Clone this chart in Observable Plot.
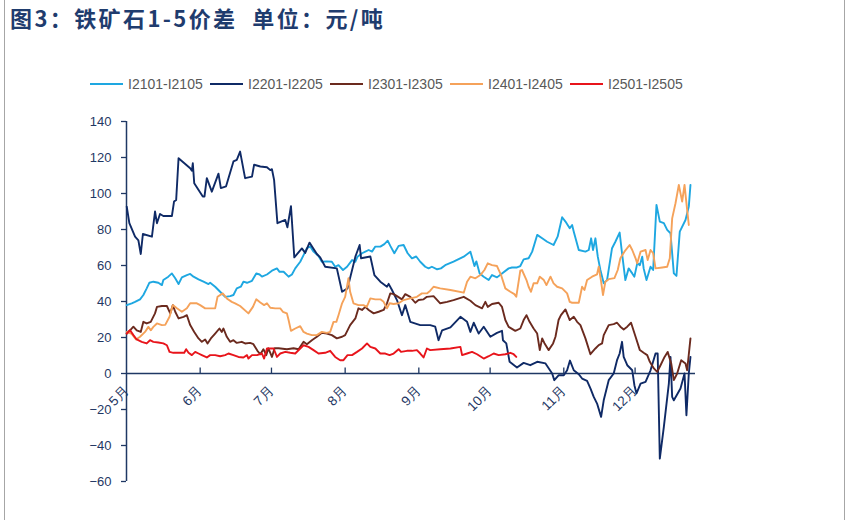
<!DOCTYPE html>
<html><head><meta charset="utf-8">
<script src="https://cdn.jsdelivr.net/npm/d3@7"></script>
<script src="https://cdn.jsdelivr.net/npm/@observablehq/plot@0.6"></script>
<style>
body{margin:0;background:#fff;}
#wrap{position:relative;width:853px;height:520px;overflow:hidden;background:#fff;}
#bl{position:absolute;left:4px;top:0;width:0;height:520px;border-left:1px solid #a6a6a6;}
#br{position:absolute;left:844px;top:0;width:0;height:520px;border-left:1px solid #a6a6a6;}
#title{position:absolute;left:10px;top:1px;font:bold 22px "Noto Sans CJK SC",sans-serif;color:#1f3c6e;letter-spacing:2.4px;white-space:pre;}
#legend{position:absolute;left:90px;top:76px;display:flex;font:14px "Liberation Sans",Arial,sans-serif;color:#595959;}
.item{width:120px;display:flex;align-items:center;white-space:nowrap;}
.sw{width:33px;height:0;border-top:2px solid;margin-right:5px;}
#chart{position:absolute;left:0;top:100px;}
</style></head>
<body><div id="wrap"><div id="bl"></div><div id="br"></div>
<div id="title"></div><div id="legend"></div><div id="chart"></div></div>
<script>
const titleText = "图3：铁矿石1-5价差  单位：元/吨";
const seriesNames = ["I2101-I2105","I2201-I2205","I2301-I2305","I2401-I2405","I2501-I2505"];
const seriesColors = ["#1ea7e1","#0f2a66","#6b2a1e","#f5a25a","#e8141b"];
const monthLabels = ["5月","6月","7月","8月","9月","10月","11月","12月"];
const yTicks = [-60,-40,-20,0,20,40,60,80,100,120,140];
// [days since 1 May, value]
const s2101 = [[0.1,38],[2.2,39],[3.6,39.8],[5.7,41.2],[7.1,43.6],[8.5,47.3],[9.6,50.4],[11.3,51],[13.4,50.4],[14.9,49.1],[15.5,51.9],[17.6,53.8],[19.1,55.6],[20.5,52.9],[21.9,49.7],[23.3,53.4],[25.4,54.7],[26.8,55.3],[28.2,53.8],[30.3,52.3],[32.4,51],[34.5,49.7],[35.2,50.4],[37.3,48.2],[39.4,45.4],[41.5,42.6],[43.6,43],[45,43.6],[46.4,47.3],[48.1,48.2],[49.2,51],[50.7,50.4],[52.8,51.5],[54.6,55.6],[56,55],[57,53.8],[59.1,55],[61.2,57.1],[63.3,58.4],[64.4,56.5],[66.1,56.5],[68.2,53.8],[69.6,55],[71,58.4],[73.1,62.1],[74.5,65.8],[75.9,69.6],[77.3,70.5],[78.7,67.7],[80.8,65.3],[82.2,62.1],[84.3,62.3],[86.4,62.1],[87.8,59.3],[89.2,60.2],[91.1,57.5],[92.8,59.3],[94.9,63],[96.3,62.1],[97.2,64.9],[99.1,66.8],[100.5,67.7],[101.9,68.6],[103.3,67.7],[104.7,70.5],[106.8,70.5],[108.5,71.9],[109.9,73.8],[111,70.9],[112.7,66.8],[114.5,70.9],[116.6,71.4],[118.3,66.8],[120.1,64],[121.9,65],[123.6,62.1],[125.7,59.3],[127.1,58.4],[128.5,59.3],[130.7,57.9],[132.3,58.4],[134.1,60.2],[137.6,62.1],[141.9,64.9],[144.7,67.7],[146.4,59.7],[147.2,62.3],[148.6,55.6],[150.3,53.8],[152.4,51.9],[153.8,54.7],[155.9,53.4],[158,55.6],[160.8,58.4],[162.2,58.9],[164.3,58.9],[165.7,59.7],[167.1,63.4],[169.2,64],[170.7,67.7],[172.8,77],[174.9,75.1],[177,73.2],[179.7,71.4],[181.4,76],[183.3,86.8],[184.7,84.4],[186.5,80.7],[187.5,82.5],[188.2,78.8],[190.3,68.6],[193.1,67.7],[194.5,68.6],[195.5,75.1],[196.3,68.6],[197.3,75.1],[198.3,64.9],[199.4,57.5],[200.8,50.1],[202.2,51.9],[204.3,69.6],[205.7,73.2],[207.5,78.3],[208.5,66.8],[209.9,51.9],[211.3,58.4],[212.8,55.6],[213.7,53.8],[214.9,61.2],[216,60.2],[217,64.9],[217.6,58.4],[218.8,51.9],[220.5,59.3],[221.6,57.5],[223,93.7],[224.4,84.4],[226.1,83.5],[227.5,79.8],[228.9,77.9],[230.3,55.6],[231.4,54.2],[232.8,78.8],[235.2,85.3],[236.6,92.7],[237.3,104.8]];
const s2201 = [[0.1,92.7],[1.2,83.5],[3.6,76],[5,74],[6,66.4],[6.9,77.5],[10.7,76],[12,90],[12.8,83.5],[14.1,88.6],[15.5,87.5],[19.1,87.5],[20,95.5],[20.9,96.4],[21.9,119.6],[26.8,114],[27.5,112.7],[27.9,116.8],[28.5,105.7],[32.1,98.3],[32.8,98.3],[33.8,108.5],[35.9,101],[38.7,111],[39.7,103],[41.9,104],[45,117.8],[46.4,118.7],[47.8,123.3],[49.9,108.5],[52.8,109.4],[53.7,116],[56.3,115],[59.1,114.6],[60.5,113],[61.2,113.5],[62.1,107.6],[63.5,83.5],[66.8,85.3],[67.7,81.2],[69.2,93],[70.6,64.5],[73.8,69.5],[75.2,67],[77,72.7],[80.1,66.4],[81.5,64.5],[83.6,59.3],[88.5,58.4],[90.7,45.4],[93,47.3],[96.3,64.9],[98.1,71.4],[98.7,64],[102.6,65],[104.3,54.7],[106.8,51],[109.6,48.2],[110.3,49.8],[111.7,46.4],[113.8,40.8],[115.9,32.4],[117.3,38],[119.4,28.7],[123.6,26.9],[127.8,26.9],[129.9,26],[131.3,18.5],[132.8,24],[136.3,25.6],[140.5,31.5],[143.3,28.7],[144.7,23.1],[146.1,28.2],[148.2,22.2],[150.3,26],[153.1,20.4],[155.9,22.6],[158,23.7],[158.4,18.5],[159.8,16.7],[161.2,6.5],[164.3,3.3],[167.1,5.9],[169.9,4.6],[172.8,6.5],[176.3,5.6],[179.1,0],[180,-3.7],[181.8,-1],[184,-1],[185.4,1.8],[186.6,7.2],[188.2,1.8],[190.3,-0.4],[191.7,-2.8],[193.8,-4.1],[195.2,-8.3],[196.6,-13],[198,-16.7],[199.7,-24.1],[200.8,-14.9],[202.9,-3.7],[205,0],[206.4,7.4],[207.5,11.1],[208.5,17.6],[209.2,9.2],[210.7,4.6],[212.8,1.8],[213.7,-6.5],[214.6,-11.1],[216.3,-5.6],[218.4,-4.6],[220.5,1.8],[222.6,11.1],[223.5,11.1],[224.4,-47.3],[226.1,-29.7],[228.2,-5.6],[228.9,9.2],[229.6,-13],[230.3,-14.9],[233.1,-8.3],[234.8,0],[235.6,-23.2],[236.6,0],[237.3,9.2]];
const s2301 = [[0.1,22.2],[1.5,24],[2.9,26],[4.3,24],[6,23.1],[7.1,28.7],[8.5,27.8],[10.2,28.7],[12,33.4],[12.8,37],[14.9,37.5],[17,37.5],[18.4,33.4],[19.5,38],[20.5,34.3],[21.9,30.6],[24,31.5],[25.4,32.4],[26.8,26.9],[28.5,23.1],[30.3,19.5],[31.7,17.6],[33.1,18.9],[34.1,16.7],[35.5,19.5],[37.3,22.2],[39.1,25],[40.1,23.1],[40.8,25],[42.2,20.4],[43.6,17.6],[45,18.5],[46.4,17],[48.5,17.6],[49.9,16.7],[52,17],[53.4,16.3],[55.1,12.6],[56.3,10.7],[57.6,13.5],[58.8,10.2],[59.7,14],[61.2,9.2],[62.3,14],[64,14],[67.5,13.5],[70.3,14],[72.4,13.5],[74.5,17.6],[75.9,16.3],[78,18.5],[80.1,20.4],[82.2,22.6],[84.3,22.2],[86.4,21.3],[88.5,19.5],[90.7,20.4],[92,21.3],[94.1,26.9],[96.3,30.6],[97.6,36.2],[99.1,35.3],[100.5,37],[101.9,35.3],[104,33.4],[106.1,34.3],[108.2,35.3],[109.6,39],[111,44.5],[112.4,44.1],[113.8,43],[115.9,41.2],[117.3,44.1],[119.4,42.6],[121.5,39.3],[122.9,40.8],[125,41.2],[126.4,42.6],[129.2,43],[132,39],[134.9,39.8],[137.6,40.8],[141.9,42.6],[144.7,40.4],[146.8,38],[149.6,36.2],[151,39.8],[152,37],[153.8,38.6],[156.6,39.3],[158,37],[159.4,29.7],[160.8,25.9],[163.6,23.7],[165.7,25],[167.1,29.7],[168.3,32.4],[169.6,28.7],[171.3,25],[172.8,22.2],[173.9,13],[174.9,19.5],[175.8,17],[177.6,13],[179.5,16.7],[180.5,20.4],[181.8,29.7],[182.8,32.4],[184.7,35.6],[186.5,29.7],[188.2,31.5],[189.6,28.7],[191,26.9],[193.1,19.5],[195.2,10.7],[197.3,13.9],[198.7,15.8],[200.1,16.7],[200.8,21.3],[202.9,26.9],[205,27.4],[206.4,28.2],[207.8,26],[209.2,24.5],[210.7,26],[212.3,28.2],[214.2,20.4],[216,13],[217.6,11.5],[219.1,10.2],[220.2,6.5],[221.9,2.8],[223.3,0.9],[224.7,4.6],[226.4,9.2],[227.7,12],[229.2,5.6],[230.3,-3.7],[231.7,0],[233.4,7.4],[235.2,5.6],[235.9,1.8],[237.3,19.5]];
const s2401 = [[0.1,23.1],[2.2,22],[4,18.9],[5.7,20.4],[7.8,23.1],[9.2,25.9],[10.2,24],[11.3,25.9],[12.8,27.8],[14.9,26.9],[16.3,27],[18.1,31.5],[19.5,38],[21.2,36.2],[23.3,34.3],[25.4,36.2],[26.8,39],[29.6,39],[31,38],[33.1,36.2],[37.3,36.2],[38.3,42.6],[40.5,44.5],[42.2,41.7],[44.3,39.8],[45.7,39],[47.8,37.5],[51.3,33.4],[53.2,37],[54.6,41.2],[56.3,39.4],[57.9,38],[59.1,39],[60.5,36.5],[62.6,36.2],[64.7,36.2],[65.8,34.3],[67.5,33.4],[68.2,29.7],[69.2,23.7],[71,25],[73.1,26.3],[74.5,23.1],[75.9,22.2],[78,21.3],[80.1,21.3],[82.2,23.1],[84.3,22.6],[85.7,23.1],[87.1,28.7],[88.3,28.7],[89.2,32.4],[90.7,39],[92,42.6],[93.4,52.9],[94.1,45.4],[95.5,39],[97.6,38],[99.7,38],[101.1,37],[102.6,41.7],[104.7,41.2],[106.8,41.2],[108.2,39.8],[109.6,36.2],[110.7,39],[112.4,38.6],[114.5,39],[116.6,40.8],[119.4,41.7],[122.2,42.6],[124.3,44.5],[126.4,44.5],[127.8,46],[129.2,48.2],[132,47.3],[136.3,46.4],[141.9,44.9],[143.3,51],[144.7,53.8],[146.8,52.9],[148.9,54.7],[150.6,57.5],[152,61.2],[153.8,60.2],[155.9,59.7],[157.6,54.7],[159.4,47.3],[161.5,45.4],[163.2,44.1],[164,42.6],[165.7,57.1],[166.4,57.5],[168.3,51.9],[169.2,48.2],[170.2,45.4],[171.3,50.1],[172.8,50.1],[173.9,53.8],[175.6,51.9],[176.7,49.1],[178.4,53.8],[179.7,50.1],[181.2,48.2],[183.3,47.3],[185.4,44.5],[186.5,39.8],[187.5,39.3],[190.3,39.3],[191.7,48.2],[192.7,46.4],[193.8,51.9],[195.9,53.8],[198,55.1],[198.7,59.3],[199.7,51],[200.5,43.6],[201.5,51],[202.9,52.4],[205.3,53],[206.7,57.5],[207.8,64],[209.5,67.7],[211.7,71.4],[212.8,68.6],[214.2,64],[214.9,61.2],[216.3,67.7],[218.4,68.6],[219.3,63],[220.5,68.6],[221.6,66.8],[222.6,58.4],[225.4,58.9],[227.5,59.3],[228.6,64],[229.6,86.2],[231,94.6],[232.4,104.8],[233.8,95.5],[234.8,104.8],[235.6,94.6],[236.6,82.5]];
const s2501 = [[0.1,22.2],[1.5,24],[2.9,21.3],[4.3,18.9],[6.4,17.6],[8.5,16.7],[9.9,18.5],[11.3,17.6],[13.4,17.2],[15.5,16.7],[17,15.7],[18.1,12],[19.7,11.5],[22.6,11.5],[24.3,11.5],[25.1,13.5],[26.1,11.5],[27.5,10.2],[28.9,12],[30.3,11.1],[31.7,10.2],[33.8,8.9],[35.2,10.2],[37.3,10.2],[39.4,9.6],[41.5,10.2],[42.9,11.1],[45,10.2],[47.1,9.2],[49.2,8.9],[50.7,10.2],[51.3,8.3],[52.8,10.2],[54.9,10.2],[57,11.1],[57.9,8.3],[59.1,13.9],[61.9,13.9],[63.3,9.2],[64.7,11.1],[66.8,12],[68.9,11.5],[71,11.1],[73.1,13.9],[74.5,15.7],[76.6,14.8],[78.7,13],[80.8,11.1],[83.6,11.5],[85.7,12.6],[87.8,9.2],[89.9,7.4],[91.3,7.4],[93,10.2],[94.9,10.2],[97,12],[99.1,13.9],[101.2,16.7],[102.6,14.8],[104.7,13.9],[106.8,11.1],[108.9,11.1],[110.7,10.2],[112.4,11.1],[114.5,13.5],[115.5,12],[118,12.6],[120.1,12.6],[122.2,13],[123.6,11.1],[125,8.9],[126.4,13.9],[127.8,13],[132,13.5],[136.3,13.9],[140.5,14.8],[141.2,10.2],[143.3,11.1],[145.4,12],[147.5,10.7],[150.3,8.3],[152.4,9.6],[154.5,11.1],[156.6,10.2],[159.4,10.7],[161.5,11.5],[162.9,10.7],[164,9.2]];

const seriesData = [s2101, s2201, s2301, s2401, s2501];
const start = Date.UTC(2020, 4, 1);
const dayMs = 864e5;
const toDate = d => new Date(start + d * dayMs);
const rows = seriesData.flatMap((s, i) => s.map(([d, v]) => ({series: seriesNames[i], date: toDate(d), value: v})));
const months = monthLabels.map((m, i) => new Date(Date.UTC(2020, 4 + i, 1)));
const xDomain = [toDate(0), new Date(Date.UTC(2020, 11, 26, 10))];
const axisColor = "#1f3864";

document.getElementById("title").textContent = titleText;
const legend = document.getElementById("legend");
seriesNames.forEach((n, i) => {
  const it = document.createElement("div"); it.className = "item";
  const sw = document.createElement("span"); sw.className = "sw"; sw.style.borderTopColor = seriesColors[i];
  const tx = document.createElement("span"); tx.textContent = n;
  it.append(sw, tx); legend.append(it);
});

const chart = Plot.plot({
  width: 853, height: 420,
  marginLeft: 126, marginRight: 158, marginTop: 21, marginBottom: 39,
  style: {fontFamily: '"Liberation Sans", Arial, sans-serif', background: "transparent", overflow: "visible"},
  x: {type: "utc", domain: xDomain, axis: null},
  y: {domain: [-60, 140], axis: null},
  color: {domain: seriesNames, range: seriesColors},
  marks: [
    Plot.axisY({ticks: yTicks, tickSize: 5, tickPadding: 10, stroke: axisColor, fill: axisColor, fontSize: 13, strokeWidth: 1.3, label: null}),
    Plot.ruleX([xDomain[0]], {stroke: axisColor, strokeWidth: 1.5}),
    Plot.ruleY([0], {stroke: axisColor, strokeWidth: 1.5}),
    Plot.ruleX(months.slice(1), {x: d => d, y1: 0, y2: 3, stroke: axisColor, strokeWidth: 1.3}),
    Plot.text(months, {x: d => d, y: 0, text: (d, i) => monthLabels[i], rotate: -45, textAnchor: "end", lineAnchor: "middle", dx: 0, dy: 15, fill: axisColor, fontSize: 13.5}),
    Plot.lineY(rows, {x: "date", y: "value", z: "series", stroke: "series", strokeWidth: 1.9, curve: "linear"})
  ]
});
document.getElementById("chart").append(chart);
</script></body></html>
